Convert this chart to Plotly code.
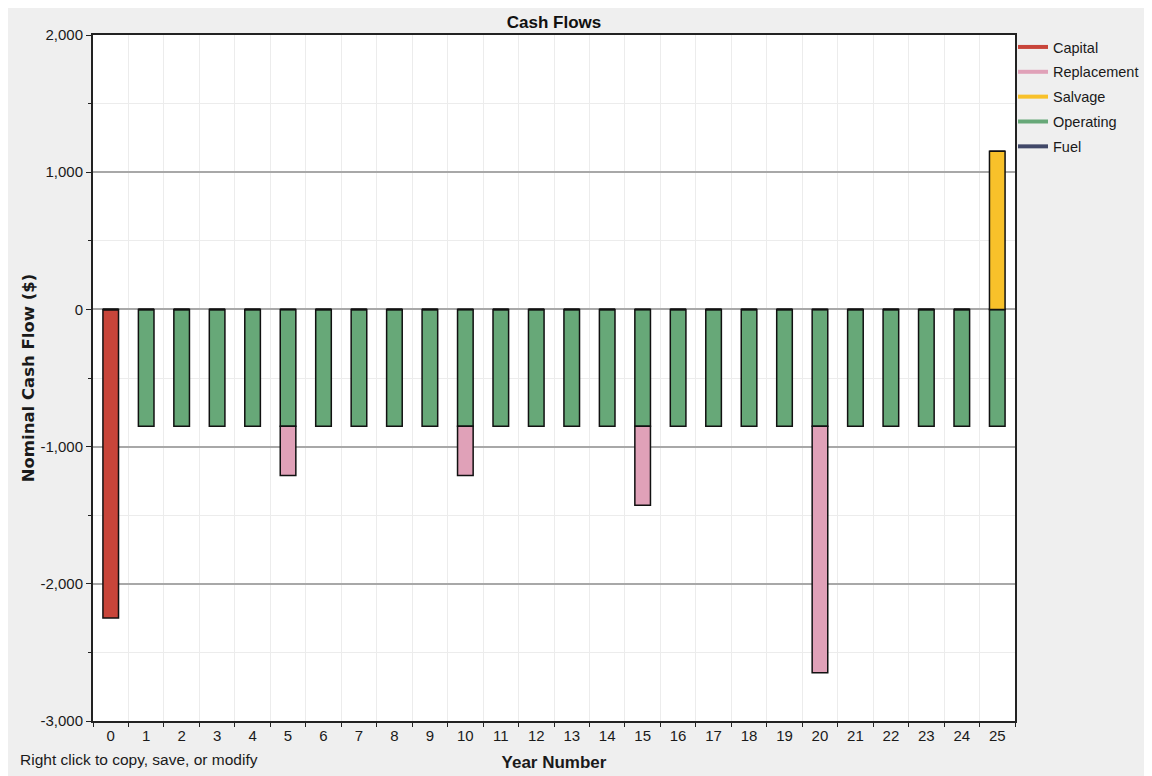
import plotly.graph_objects as go

years = list(range(26))
capital = [-2250] + [0] * 25
operating = [0] + [-852] * 25
replacement = [0] * 26
replacement[5] = -358
replacement[10] = -358
replacement[15] = -575
replacement[20] = -1797
salvage = [0] * 25 + [1153]
fuel = [0] * 26

series_names = ["Capital", "Replacement", "Salvage", "Operating", "Fuel"]
series_colors = {"Capital": "#c8453a", "Replacement": "#e0a1b8", "Salvage": "#f8c12a",
                 "Operating": "#67a878", "Fuel": "#414868"}

y_tickvals = [-3000, -2000, -1000, 0, 1000, 2000]
y_ticktext = ["-3,000", "-2,000", "-1,000", "0", "1,000", "2,000"]
x_ticktext = [str(y) for y in years]

FONT = "Liberation Sans Narrow, Arial Narrow, Liberation Sans, Arial, sans-serif"

W, H = 1137, 776
L, R, T, B = 85, 130, 27, 63
PW, PH = W - L - R, H - T - B

fig = go.Figure()
bar_data = [("Capital", capital), ("Operating", operating), ("Replacement", replacement),
            ("Salvage", salvage), ("Fuel", fuel)]
for name, vals in bar_data:
    fig.add_trace(go.Bar(x=years, y=vals, name=name, width=0.44,
                         marker=dict(color=series_colors[name], line=dict(color="#111111", width=1.5)),
                         showlegend=False, legendgroup=name))
for name in series_names:
    fig.add_trace(go.Scatter(x=[None], y=[None], mode="lines", name=name, legendgroup=name,
                             line=dict(color=series_colors[name], width=4)))

fig.update_layout(
    width=W, height=H,
    barmode="relative",
    paper_bgcolor="#efefef", plot_bgcolor="white",
    margin=dict(l=L, r=R, t=T, b=B, autoexpand=False),
    font=dict(family=FONT, size=14, color="#1a1a1a"),
    title=dict(text="<b>Cash Flows</b>", x=(L + PW / 2) / W, xanchor="center", y=1 - 14 / H,
               yanchor="middle", font=dict(size=17, family=FONT, color="#111111")),
    legend=dict(xref="container", x=1005 / W, y=1.0058, xanchor="left", yanchor="top",
                bgcolor="rgba(0,0,0,0)",
                font=dict(size=14.5, family=FONT, color="#1a1a1a"), itemwidth=30,
                tracegroupgap=3),
    annotations=[
        dict(text="Right click to copy, save, or modify", xref="paper", yref="paper",
             x=(10 - L) / PW, y=(721 - 759) / PH, xanchor="left", yanchor="middle",
             showarrow=False, font=dict(size=15.5, family=FONT, color="#1a1a1a")),
    ],
)

fig.update_xaxes(
    range=[-0.5, 25.5], tickvals=years, ticktext=x_ticktext, ticks="", showgrid=False,
    zeroline=False, showline=True, linecolor="#222222", linewidth=2, mirror=True,
    minor=dict(tick0=0.5, dtick=1, ticks="outside", ticklen=4, tickcolor="#222222",
               showgrid=True, gridcolor="#ececec", gridwidth=1),
    title=dict(text="<b>Year Number</b>", font=dict(size=17, family=FONT), standoff=13),
    tickfont=dict(size=15),
)
fig.update_yaxes(
    range=[-3000, 2000], tickvals=y_tickvals, ticktext=y_ticktext, ticks="outside", ticklen=5,
    tickcolor="#222222", showgrid=True, gridcolor="#a8a8a8", gridwidth=1.5,
    zeroline=True, zerolinecolor="#a8a8a8", zerolinewidth=1.5,
    showline=True, linecolor="#222222", linewidth=2, mirror=True,
    minor=dict(dtick=500, tick0=0, ticks="outside", ticklen=3, tickcolor="#222222",
               showgrid=True, gridcolor="#ececec", gridwidth=1),
    title=dict(text="<b>Nominal Cash Flow ($)</b>", font=dict(size=16.5, family="DejaVu Sans"),
               standoff=2),
    tickfont=dict(size=15),
)

fig.write_html("out.html")
